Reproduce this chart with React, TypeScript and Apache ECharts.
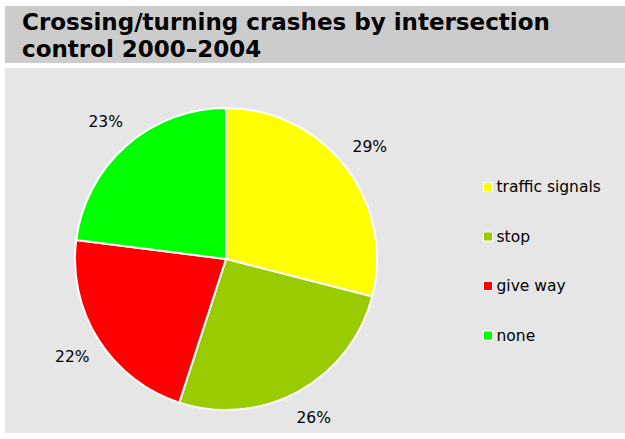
import React, { useEffect, useRef } from "react";
import * as echarts from "echarts";

const titleLines = ["Crossing/turning crashes by intersection", "control 2000–2004"];
const categories = ["traffic signals", "stop", "give way", "none"];
const values = [29, 26, 22, 23];
const colors = ["#FFFF00", "#99CC00", "#FF0000", "#00FF00"];

export default function App() {
  const ref = useRef<HTMLDivElement>(null);
  useEffect(() => {
    if (!ref.current) return;
    const chart = echarts.init(ref.current, null, { renderer: "svg" });
    const data = categories.map((name, i) => ({
      name,
      value: values[i],
      itemStyle: { color: colors[i] },
    }));
    chart.setOption({
      animation: false,
      backgroundColor: "#FFFFFF",
      textStyle: { fontFamily: "DejaVu Sans" },
      graphic: [
        { type: "rect", shape: { x: 5, y: 6, width: 620, height: 57 }, style: { fill: "#CCCCCC" }, z: -10 },
        { type: "rect", shape: { x: 5, y: 68, width: 620, height: 365 }, style: { fill: "#E6E6E6" }, z: -10 },
        {
          type: "text",
          left: 22,
          top: 9,
          style: {
            text: titleLines.join("\n"),
            font: "bold 23px 'DejaVu Sans'",
            lineHeight: 26.5,
            fill: "#000000",
          },
        },
      ],
      legend: {
        orient: "vertical",
        left: 478,
        top: 174,
        itemWidth: 9,
        itemHeight: 9,
        itemGap: 33.5,
        icon: "rect",
        itemStyle: { borderColor: "#FFFFFF", borderWidth: 1 },
        textStyle: { fontSize: 15.5, color: "#000000", fontFamily: "DejaVu Sans", padding: [0, 0, 0, -1] },
        data: categories,
      },
      series: [
        {
          type: "pie",
          center: [226, 259],
          radius: 151,
          startAngle: 90,
          clockwise: true,
          itemStyle: { borderColor: "#FFFFFF", borderWidth: 2 },
          label: { show: false },
          labelLine: { show: false },
          emphasis: { disabled: true },
          data,
        },
        {
          type: "pie",
          center: [226, 259],
          radius: [171, 187],
          startAngle: 90,
          clockwise: true,
          silent: true,
          legendHoverLink: false,
          itemStyle: { color: "transparent", borderWidth: 0 },
          label: {
            show: true,
            position: "inside",
            formatter: "{c}%",
            fontSize: 15.5,
            color: "#000000",
            fontFamily: "DejaVu Sans",
          },
          labelLine: { show: false },
          emphasis: { disabled: true },
          data: categories.map((name, i) => ({ name: name + " label", value: values[i] })),
        },
      ],
    });
    return () => chart.dispose();
  }, []);
  return (
    <div
      ref={ref}
      style={{ position: "fixed", left: 0, top: 0, width: 625, height: 439 }}
    />
  );
}
